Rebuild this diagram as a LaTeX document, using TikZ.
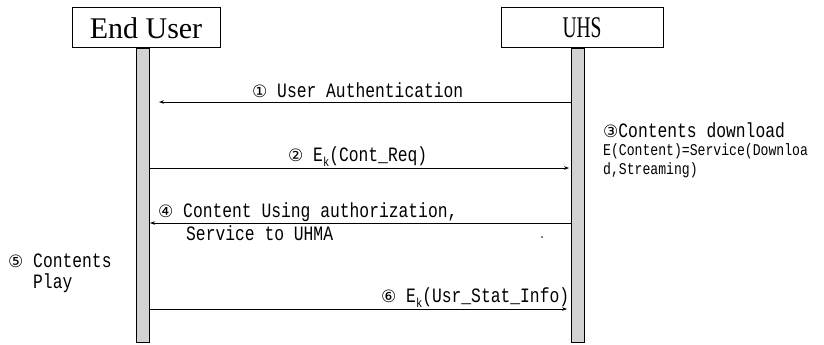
\documentclass[tikz,border=0pt]{standalone}
\usepackage{fontspec}
\setmainfont{Liberation Serif}
\newfontfamily\monof[FakeStretch=0.8]{Liberation Mono}
\newfontfamily\circf{DejaVu Sans}
\usetikzlibrary{arrows.meta}
\newcommand\cn[1]{{\circf\fontsize{17}{17}\selectfont #1}}
\newcommand\Ek{E\raisebox{-0.25em}{\fontsize{13}{13}\selectfont k}}
\begin{document}
\begin{tikzpicture}[x=1pt,y=-1pt,
  actor/.style={draw, line width=1pt, minimum height=40pt, inner sep=0pt, font=\fontsize{30}{30}\selectfont},
  lifebar/.style={draw, line width=0.9pt, fill=gray!35, minimum width=13pt, minimum height=294pt, inner sep=0pt},
  msg/.style={line width=0.9pt, -{Stealth[length=5pt,width=3.6pt]}},
  lbl/.style={font=\monof\fontsize{20.4}{24}\selectfont, inner sep=0pt, anchor=base west},
  slbl/.style={font=\monof\fontsize{16.4}{20}\selectfont, inner sep=0pt, anchor=base west}]
\useasboundingbox (0,0) rectangle (824,345);
% actors
\node[actor, minimum width=148pt] (eu) at (146,28) {End User};
\node[actor, minimum width=162pt] (uhs) at (582,28) {\scalebox{0.65}[1]{UHS}};
% lifelines
\node[lifebar] (lb) at (143,195) {};
\node[lifebar] (rb) at (578,195) {};
% rows
\coordinate (r1) at (0,102);
\coordinate (r2) at (0,168);
\coordinate (r4) at (0,223);
\coordinate (r6) at (0,309);
% messages
\draw[msg] (rb.west |- r1) -- ([xshift=9pt]lb.east |- r1);
\draw[msg] (lb.east |- r2) -- ([xshift=-2pt]rb.west |- r2);
\draw[msg] (rb.west |- r4) -- (lb.east |- r4);
\draw[msg] (lb.east |- r6) -- ([xshift=-4pt]rb.west |- r6);
% labels
\node[lbl] (t1) at (252,97) {\cn{①} User Authentication};
\node[lbl] (t2) at (288,161) {\cn{②} \Ek(Cont\_Req)};
\node[lbl] (t3a) at (603,137) {\cn{③}Contents download};
\node[slbl] (t3b) at (603,155) {E(Content)=Service(Downloa};
\node[slbl] (t3c) at (603,174) {d,Streaming)};
\node[lbl] (t4a) at (158,217) {\cn{④} Content Using authorization,};
\node[lbl] (t4b) at (186,240) {Service to UHMA};
\node[lbl] (t5a) at (8,267) {\cn{⑤} Contents};
\node[lbl] (t5b) at (33,288) {Play};
\node[lbl] (t6) at (381,302) {\cn{⑥} \Ek(Usr\_Stat\_Info)};
\fill (542,237) circle (0.8pt);
\end{tikzpicture}
\end{document}
